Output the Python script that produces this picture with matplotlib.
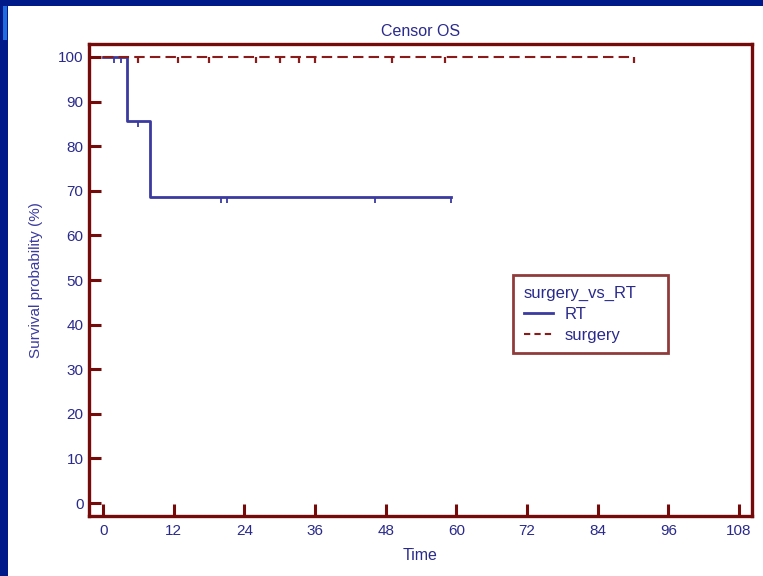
import numpy as np
import matplotlib.pyplot as plt
from matplotlib.patches import Rectangle

plt.rcParams['font.family'] = ['Liberation Sans', 'DejaVu Sans']

# Kaplan-Meier steps (months, survival %)
rt_times = [0, 4.1, 8.0, 59.1]
rt_surv = [100, 85.7, 68.6, 68.6]
rt_censor = [1.9, 3.05, 6.0, 20.0, 21.0, 46.1, 59.1]

surgery_times = [0, 90.2]
surgery_surv = [100, 100]
surgery_censor = [5.9, 12.8, 17.9, 25.9, 30.0, 33.2, 35.9, 49.0, 58.1, 90.2]

x_ticks = [0, 12, 24, 36, 48, 60, 72, 84, 96, 108]
y_ticks = [0, 10, 20, 30, 40, 50, 60, 70, 80, 90, 100]

navy = '#2a2a8c'
maroon = '#750a0a'
blue = '#3a3aa0'
red = '#8b1a1a'


def surv_at(times, surv, t):
    # value of the step function just after time t
    idx = np.searchsorted(times, t, side='right') - 1
    return np.array(surv)[idx]


fig = plt.figure(figsize=(7.63, 5.76), dpi=100)
fig.patch.set_facecolor('white')

# slide frame
fig.patches.append(Rectangle((0, 1 - 6 / 576), 1, 6 / 576, transform=fig.transFigure,
                             facecolor='#011a8a', edgecolor='none', zorder=0))
fig.patches.append(Rectangle((0, 0), 8 / 763, 1, transform=fig.transFigure,
                             facecolor='#011a8a', edgecolor='none', zorder=0))
fig.patches.append(Rectangle((3 / 763, 1 - 40 / 576), 4 / 763, 34 / 576, transform=fig.transFigure,
                             facecolor='#1e6ee0', edgecolor='none', zorder=1))

ax = fig.add_axes([89 / 763, 1 - 516 / 576, 663 / 763, 472 / 576])

ax.step(rt_times, rt_surv, where='post', color=blue, lw=2.0, label='RT')
ax.plot(rt_censor, surv_at(rt_times, rt_surv, rt_censor), linestyle='none',
        marker=3, markersize=4.5, markeredgewidth=1.3, color=blue)

ax.step(surgery_times, surgery_surv, where='post', color=red, lw=1.5,
        dashes=(5, 2.5), label='surgery')
ax.plot(surgery_censor, surv_at(surgery_times, surgery_surv, surgery_censor), linestyle='none',
        marker=3, markersize=4.5, markeredgewidth=1.6, color=red)

ax.set_xlim(-2.4, 110.2)
ax.set_ylim(-2.9, 102.9)
ax.set_xticks(x_ticks)
ax.set_yticks(y_ticks)
ax.tick_params(direction='in', length=8.5, width=2.2, color=maroon,
               labelcolor=navy, labelsize=11)
ax.tick_params(axis='x', pad=6)
ax.tick_params(axis='y', pad=4)

for s in ax.spines.values():
    s.set_color(maroon)
    s.set_linewidth(2.4)

ax.set_title('Censor OS', color=navy, fontsize=11.5, pad=6)
ax.set_xlabel('Time', color=navy, fontsize=11.5, labelpad=7)
ax.set_ylabel('Survival probability (%)', color='#3b3ba0', fontsize=11, labelpad=11)

# legend box stretched to a fixed width, entries stay on the left
leg = ax.legend(title='surgery_vs_RT', loc='upper left', mode='expand',
                bbox_to_anchor=(424 / 663, 241 / 472 - 0.01, 155 / 663, 0.01),
                frameon=True, fancybox=False, fontsize=12, title_fontsize=12,
                handlelength=1.75, handletextpad=0.7, borderpad=0.65,
                labelspacing=0.35, borderaxespad=0)
leg._legend_box.align = 'left'
leg.get_title().set_color(navy)
for t in leg.get_texts():
    t.set_color(navy)
for h in leg.get_lines():
    if h.get_label() == 'surgery':
        h.set_dashes((3, 2))
leg.get_frame().set_edgecolor(maroon)
leg.get_frame().set_linewidth(2.0)

fig.savefig('out.png', dpi=100)
